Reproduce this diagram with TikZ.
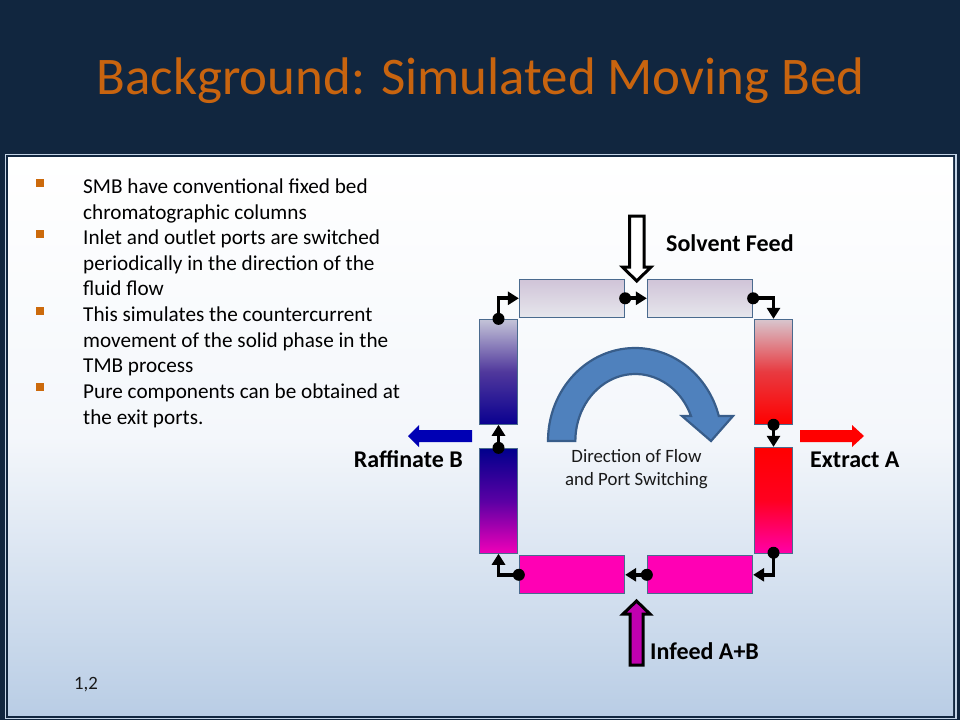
\documentclass[tikz,border=0pt]{standalone}
\usepackage{fontspec}
\setmainfont{Carlito}
\usetikzlibrary{arrows.meta}
\definecolor{navy}{HTML}{11263F}
\definecolor{titleorange}{HTML}{C8640F}
\definecolor{bulletorange}{HTML}{CC6A0C}
\definecolor{panelbot}{HTML}{B9CDE5}
\definecolor{panelmid}{HTML}{F4F7FB}
\definecolor{framelight}{HTML}{C4D4E6}
\definecolor{boxedge}{HTML}{4A6A8E}
\definecolor{sweepfill}{HTML}{4F81BD}
\definecolor{sweepedge}{HTML}{385D8A}
\definecolor{palea}{HTML}{D0C4D8}
\definecolor{paleb}{HTML}{E6E6EC}
\definecolor{blueA}{HTML}{C4C4D8}
\definecolor{blueB}{HTML}{50389C}
\definecolor{blueC}{HTML}{0A0090}
\definecolor{redA}{HTML}{D8C6CE}
\definecolor{redB}{HTML}{E83A40}
\definecolor{redC}{HTML}{FF0000}
\definecolor{lowA}{HTML}{00008C}
\definecolor{lowB}{HTML}{5A00A4}
\definecolor{lowC}{HTML}{F000B8}
\definecolor{pinkA}{HTML}{FF0000}
\definecolor{pinkM}{HTML}{FF0020}
\definecolor{pinkB}{HTML}{FF00A8}
\definecolor{magenta}{HTML}{FF00B4}
\definecolor{infeed}{HTML}{C000B0}
\definecolor{raff}{HTML}{0000B4}
\tikzset{
  x=1pt,y=-1pt,
  column/.style={draw=boxedge,line width=0.9pt,inner sep=0pt,minimum width=38.4pt,minimum height=105pt},
  beam/.style={draw=boxedge,line width=0.9pt,inner sep=0pt,minimum width=105.4pt,minimum height=38pt},
  dotmark/.style={circle,fill=black,inner sep=0pt,minimum size=12pt},
  flow/.style={black,line width=3.8pt,-{Triangle[length=11pt,width=13pt]}},
  bulletmark/.style={fill=bulletorange,inner sep=0pt,minimum size=8pt},
  bodytext/.style={anchor=north west,inner sep=0pt,align=left,text=black,font=\fontsize{21.2}{25.5}\selectfont},
  labeltext/.style={inner sep=0pt,text=black,font=\fontsize{24}{28}\selectfont\bfseries},
  notetext/.style={inner sep=0pt,align=center,text=black!90,font=\fontsize{18.8}{23.2}\selectfont},
}
\begin{document}
\begin{tikzpicture}
\useasboundingbox (0,0) rectangle (960,720);
\fill[navy] (0,0) rectangle (960,720);
\draw[framelight,line width=1.4pt] (5.5,154.7) rectangle (956,718.5);
\shade[top color=white,bottom color=panelbot,middle color=panelmid] (8,157) rectangle (953,715.5);

\node[inner sep=0pt,text=titleorange,font=\fontsize{52.9}{60}\selectfont] (title) at (480.5,81) {Background: Simulated Moving Bed};

\node[bulletmark] (b1) at (40,183) {};
\node[bulletmark] (b2) at (40,234) {};
\node[bulletmark] (b3) at (40,311) {};
\node[bulletmark] (b4) at (40,387) {};
\node[bodytext] (t1) at (83,179) {SMB have conventional fixed bed\\chromatographic columns};
\node[bodytext] (t2) at (83,230) {Inlet and outlet ports are switched\\periodically in the direction of the\\fluid flow};
\node[bodytext] (t3) at (83,307) {This simulates the countercurrent\\movement of the solid phase in the\\TMB process};
\node[bodytext] (t4) at (83,384) {Pure components can be obtained at\\the exit ports.};
\node[notetext,anchor=center] (ref) at (86,684.5) {1,2};

% swept direction arrow
\draw[fill=sweepfill,draw=sweepedge,line width=2.2pt,line join=miter]
  (548,441) arc[start angle=180,end angle=15.6,x radius=87pt,y radius=93pt]
  -- (733,416) -- (711,441) -- (682,416) -- (691,416)
  arc[start angle=21.9,end angle=180,x radius=60pt,y radius=67pt] -- cycle;
\node[notetext] (dir) at (636.5,469) {Direction of Flow\\and Port Switching};

% beds
\node[beam,top color=palea,bottom color=paleb] (tl) at (572,298.3) {};
\node[beam,top color=palea,bottom color=paleb] (tr) at (700,298.3) {};
\node[column,top color=redA,bottom color=redC,middle color=redB] (ru) at (773.5,371.8) {};
\node[column,top color=pinkA,bottom color=pinkB,middle color=pinkM,minimum height=106pt] (rl) at (773.5,500.3) {};
\node[beam,fill=magenta] (br) at (700,574.8) {};
\node[beam,fill=magenta] (bl) at (572,574.8) {};
\node[column,top color=lowA,bottom color=lowC,middle color=lowB] (ll) at (498.5,500.8) {};
\node[column,top color=blueA,bottom color=blueC,middle color=blueB] (lu) at (498.5,371.8) {};

% port dots
\node[dotmark] (d1) at (tl.east) {};
\node[dotmark] (d2) at (tr.east) {};
\node[dotmark] (d3) at (ru.south) {};
\node[dotmark] (d4) at ([yshift=1pt]rl.south) {};
\node[dotmark] (d5) at (br.west) {};
\node[dotmark] (d6) at (bl.west) {};
\node[dotmark] (d7) at (ll.north) {};
\node[dotmark] (d8) at (lu.north) {};

% connectors
\draw[flow] (d1.center) -- (tr.west);
\draw[flow] (d2.center) -| (ru.north);
\draw[flow] (d3.center) -- (rl.north);
\draw[flow] (d4.center) |- (br.east);
\draw[flow] (d5.center) -- (bl.east);
\draw[flow] (d6.center) -| (ll.south);
\draw[flow] (d7.center) -- (lu.south);
\draw[flow] (d8.center) |- (tl.west);

% feed and product arrows
\draw[black,line width=3pt,fill=white,line join=miter]
  (629.5,216) -- (644,216) -- (644,267) -- (651,267) -- (636.7,281) -- (622.5,267) -- (629.5,267) -- cycle;
\draw[black,line width=3pt,fill=infeed,line join=miter]
  (630,665) -- (643,665) -- (643,614) -- (650,614) -- (636.5,601) -- (623,614) -- (630,614) -- cycle;
\fill[raff] (472,430) -- (419,430) -- (419,425) -- (408,436) -- (419,447) -- (419,442) -- (472,442) -- cycle;
\fill[red] (800,430) -- (852,430) -- (852,425) -- (864,436) -- (852,447) -- (852,442) -- (800,442) -- cycle;

% labels
\node[labeltext,anchor=west] (solvent) at (666,243.5) {Solvent Feed};
\node[labeltext,anchor=east] (raffinate) at (463,459) {Raffinate B};
\node[labeltext,anchor=west] (extract) at (810,459.5) {Extract A};
\node[labeltext,anchor=west] (infeedlabel) at (650,651) {Infeed A+B};
\end{tikzpicture}
\end{document}
